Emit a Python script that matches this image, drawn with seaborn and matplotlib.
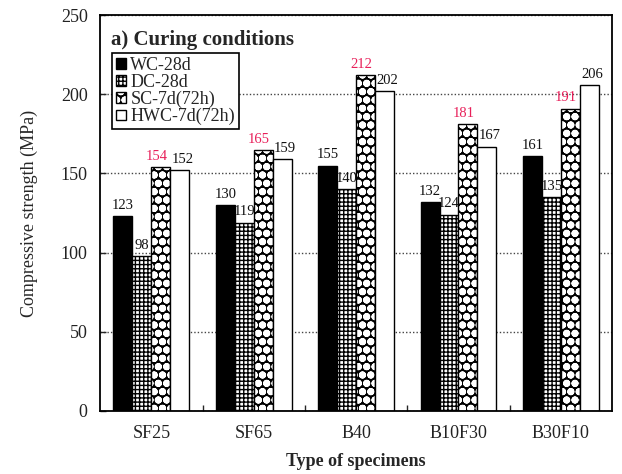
import matplotlib
matplotlib.use("Agg")
import matplotlib.pyplot as plt
import seaborn as sns
import pandas as pd

# Compressive strength (MPa) by specimen type and curing condition
specimens = ["SF25", "SF65", "B40", "B10F30", "B30F10"]
curing = ["WC-28d", "DC-28d", "SC-7d(72h)", "HWC-7d(72h)"]
wc_28d = [123, 130, 155, 132, 161]
dc_28d = [98, 119, 140, 124, 135]
sc_7d = [154, 165, 212, 181, 191]
hwc_7d = [152, 159, 202, 167, 206]
yticks = [0, 50, 100, 150, 200, 250]

sns.set_theme(style="white")
plt.rcParams["font.family"] = ["Liberation Serif", "DejaVu Serif"]
plt.rcParams["hatch.linewidth"] = 1.0

df = pd.DataFrame({
    "Specimen": specimens * len(curing),
    "Curing": [c for c in curing for _ in specimens],
    "Strength": wc_28d + dc_28d + sc_7d + hwc_7d,
})

fig = plt.figure(figsize=(6.22, 4.74), dpi=100)
ax = fig.add_axes([0.161, 0.133, 0.823, 0.835])

sns.barplot(data=df, x="Specimen", y="Strength", hue="Curing",
            order=specimens, hue_order=curing,
            palette=["black", "white", "black", "white"], saturation=1,
            width=0.74, gap=0, edgecolor="black", linewidth=1.0,
            errorbar=None, legend=False, ax=ax)

# fill patterns: fine grid for DC, white dots on black for SC
for bar in ax.containers[1]:
    bar.set_hatch("++++")
for bar in ax.containers[2]:
    bar.set_hatch("OOoo..")
    bar.set_edgecolor("black")
    if hasattr(bar, "set_hatchcolor"):
        bar.set_hatchcolor("white")
    else:
        bar._hatch_color = (1.0, 1.0, 1.0, 1.0)

# value labels; SC labels nudged left and HWC labels right so they don't collide
label_colors = ["#111111", "#111111", "#e8205a", "#111111"]
label_shift = [0, 0, -3, 2]
for cont, col, dx in zip(ax.containers, label_colors, label_shift):
    texts = ax.bar_label(cont, fmt="%d", padding=3, fontsize=10.5, color=col)
    for t in texts:
        t.xyann = (dx, 3)

ax.set_ylim(0, 250)
ax.set_xlim(-0.5, len(specimens) - 0.5)
ax.set_yticks(yticks)
ax.set_axisbelow(True)
ax.yaxis.grid(True, linestyle=(0, (1, 1.5)), color="#444444", linewidth=1.0)

for sp in ax.spines.values():
    sp.set_visible(True)
    sp.set_color("black")
    sp.set_linewidth(1.3)

ax.tick_params(axis="y", direction="in", length=4, width=1, left=True,
               pad=9, labelsize=13, labelcolor="#222222")
ax.tick_params(axis="x", which="major", length=0, pad=10,
               labelsize=13, labelcolor="#222222")
ax.set_xticks([i + 0.5 for i in range(len(specimens) - 1)], minor=True)
ax.tick_params(axis="x", which="minor", direction="in", length=4, width=1,
               bottom=True)

ax.set_xlabel("Type of specimens", fontsize=13, fontweight="bold", labelpad=8)
ax.set_ylabel("Compressive strength (MPa)", fontsize=13, labelpad=16)

ax.text(0.022, 0.937, "a) Curing conditions", transform=ax.transAxes,
        ha="left", va="center", fontsize=15, fontweight="bold")

leg = ax.legend(ax.containers, curing, loc="upper left",
                bbox_to_anchor=(0.024, 0.904), fontsize=13,
                handlelength=0.55, handleheight=0.55, handletextpad=0.25,
                labelspacing=0.0, borderpad=0.2, borderaxespad=0,
                fancybox=False, framealpha=1, edgecolor="black")
leg.get_frame().set_linewidth(1.2)

fig.savefig("out.png", dpi=100, facecolor="white")
